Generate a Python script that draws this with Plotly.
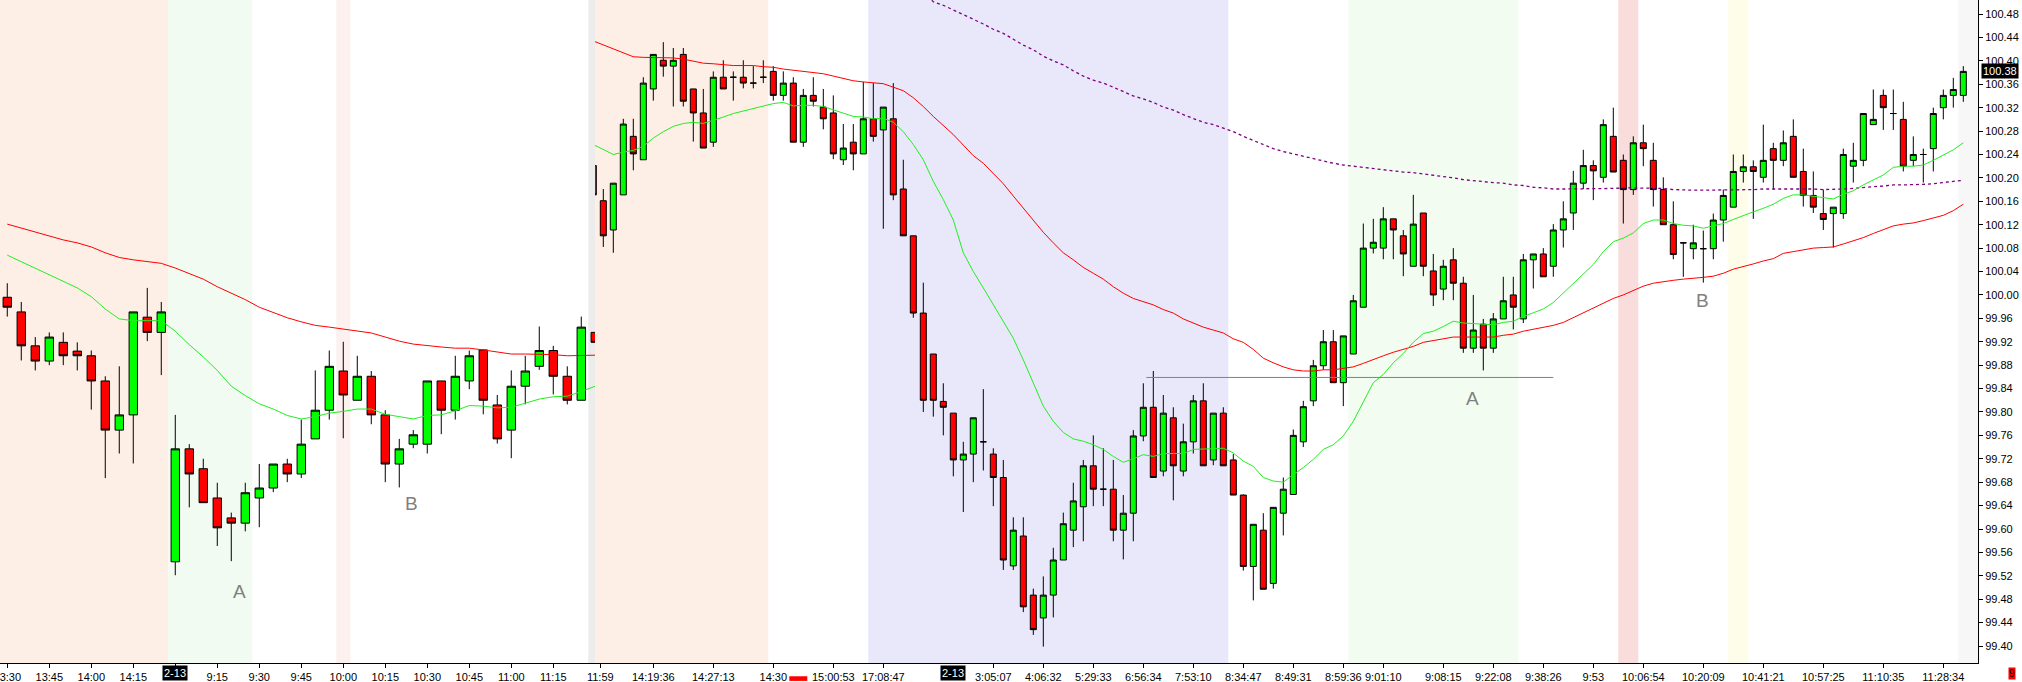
import plotly.graph_objects as go

# === Left panel (previous session), one candle per index ===
left_open = [99.996, 99.971, 99.913, 99.887, 99.919, 99.904, 99.896, 99.853, 99.769, 99.795,
             99.962, 99.936, 99.544, 99.737, 99.703, 99.653, 99.619, 99.610, 99.653, 99.670,
             99.711, 99.694, 99.754, 99.803, 99.870, 99.820, 99.861, 99.795, 99.711, 99.745,
             99.745, 99.853, 99.803, 99.853, 99.906, 99.812, 99.769, 99.844, 99.878, 99.905,
             99.861, 99.820, 99.936]
left_high = [100.020, 99.988, 99.928, 99.936, 99.936, 99.919, 99.905, 99.861, 99.878, 99.971,
             100.012, 99.988, 99.795, 99.745, 99.720, 99.679, 99.628, 99.679, 99.711, 99.711,
             99.720, 99.787, 99.871, 99.905, 99.920, 99.896, 99.870, 99.803, 99.754, 99.769,
             99.853, 99.853, 99.896, 99.905, 99.906, 99.829, 99.871, 99.896, 99.946, 99.913,
             99.878, 99.963, 99.936]
left_low = [99.963, 99.888, 99.871, 99.880, 99.880, 99.871, 99.804, 99.687, 99.729, 99.712,
            99.921, 99.863, 99.521, 99.637, 99.645, 99.571, 99.545, 99.596, 99.603, 99.663,
            99.680, 99.687, 99.754, 99.787, 99.755, 99.820, 99.779, 99.680, 99.671, 99.738,
            99.729, 99.762, 99.787, 99.839, 99.796, 99.746, 99.721, 99.813, 99.872, 99.830,
            99.813, 99.820, 99.919]
left_close = [99.979, 99.913, 99.887, 99.928, 99.896, 99.896, 99.853, 99.769, 99.795, 99.971,
              99.936, 99.971, 99.737, 99.694, 99.645, 99.602, 99.610, 99.662, 99.670, 99.711,
              99.694, 99.745, 99.803, 99.878, 99.829, 99.861, 99.795, 99.711, 99.737, 99.761,
              99.853, 99.803, 99.861, 99.896, 99.820, 99.754, 99.844, 99.870, 99.905, 99.861,
              99.820, 99.945, 99.919]
left_fast = [100.068, 100.057, 100.046, 100.034, 100.023, 100.012, 99.997, 99.976, 99.959, 99.956,
             99.956, 99.956, 99.938, 99.915, 99.894, 99.871, 99.844, 99.828, 99.814, 99.805,
             99.794, 99.788, 99.792, 99.798, 99.801, 99.805, 99.805, 99.796, 99.792, 99.788,
             99.794, 99.795, 99.802, 99.811, 99.810, 99.807, 99.808, 99.815, 99.822, 99.826,
             99.827, 99.835, 99.844]
left_slow = [100.121, 100.114, 100.108, 100.101, 100.094, 100.089, 100.082, 100.072, 100.064, 100.060,
             100.057, 100.054, 100.046, 100.036, 100.027, 100.014, 100.003, 99.992, 99.979, 99.970,
             99.961, 99.954, 99.948, 99.945, 99.942, 99.939, 99.935, 99.928, 99.921, 99.916,
             99.913, 99.911, 99.909, 99.909, 99.906, 99.903, 99.899, 99.899, 99.899, 99.898,
             99.896, 99.897, 99.897]
left_tick_idx = [0, 3, 6, 9, 12, 15, 18, 21, 24, 27, 30, 33, 36, 39]
left_tick_text = ["13:30", "13:45", "14:00", "14:15", "", "9:15", "9:30", "9:45",
                  "10:00", "10:15", "10:30", "10:45", "11:00", "11:15"]

# === Right panel, candles k = -1 .. 136 ===
right_first = -1
right_open = [100.221, 100.161, 100.111, 100.171, 100.271, 100.231, 100.352, 100.401, 100.391, 100.411,
              100.352, 100.311, 100.261, 100.372, 100.372, 100.372, 100.362, 100.372, 100.382, 100.341,
              100.362, 100.261, 100.341, 100.321, 100.311, 100.231, 100.261, 100.241, 100.301, 100.282,
              100.301, 100.181, 100.101, 99.969, 99.899, 99.818, 99.798, 99.718, 99.728, 99.749,
              99.728, 99.688, 99.537, 99.588, 99.487, 99.448, 99.487, 99.547, 99.598, 99.638,
              99.708, 99.668, 99.668, 99.598, 99.627, 99.759, 99.808, 99.699, 99.790, 99.699,
              99.749, 99.819, 99.718, 99.798, 99.718, 99.658, 99.536, 99.598, 99.507, 99.627,
              99.659, 99.749, 99.819, 99.879, 99.920, 99.850, 99.899, 99.979, 100.080, 100.080,
              100.130, 100.101, 100.049, 100.140, 100.041, 100.010, 100.060, 100.020, 99.909, 99.950,
              99.909, 99.959, 100.000, 99.959, 100.060, 100.070, 100.049, 100.111, 100.140, 100.191,
              100.221, 100.201, 100.271, 100.230, 100.180, 100.260, 100.230, 100.180, 100.120, 100.089,
              100.079, 100.079, 100.079, 100.128, 100.150, 100.211, 100.219, 100.201, 100.250, 100.230,
              100.271, 100.211, 100.170, 100.139, 100.139, 100.139, 100.220, 100.230, 100.291, 100.341,
              100.310, 100.300, 100.230, 100.240, 100.250, 100.320, 100.341, 100.341]
right_high = [100.221, 100.181, 100.191, 100.301, 100.301, 100.372, 100.411, 100.432, 100.422, 100.422,
              100.352, 100.352, 100.382, 100.401, 100.382, 100.401, 100.391, 100.401, 100.391, 100.382,
              100.372, 100.352, 100.372, 100.352, 100.341, 100.292, 100.292, 100.364, 100.362, 100.321,
              100.362, 100.231, 100.101, 100.021, 99.899, 99.849, 99.798, 99.749, 99.790, 99.839,
              99.738, 99.718, 99.620, 99.620, 99.498, 99.519, 99.568, 99.628, 99.679, 99.718,
              99.760, 99.738, 99.718, 99.658, 99.769, 99.849, 99.870, 99.829, 99.808, 99.780,
              99.829, 99.849, 99.798, 99.808, 99.728, 99.659, 99.608, 99.627, 99.637, 99.688,
              99.770, 99.819, 99.889, 99.940, 99.940, 99.930, 100.000, 100.122, 100.130, 100.150,
              100.130, 100.111, 100.171, 100.140, 100.070, 100.060, 100.080, 100.031, 100.000, 99.959,
              99.969, 100.031, 100.031, 100.070, 100.070, 100.080, 100.121, 100.160, 100.212, 100.248,
              100.230, 100.300, 100.320, 100.240, 100.271, 100.291, 100.260, 100.201, 100.160, 100.089,
              100.120, 100.110, 100.139, 100.180, 100.240, 100.240, 100.230, 100.291, 100.260, 100.281,
              100.300, 100.250, 100.211, 100.180, 100.150, 100.250, 100.260, 100.310, 100.351, 100.351,
              100.351, 100.330, 100.271, 100.250, 100.320, 100.351, 100.371, 100.391]
right_low = [100.171, 100.082, 100.072, 100.171, 100.213, 100.231, 100.332, 100.373, 100.322, 100.322,
             100.262, 100.251, 100.253, 100.352, 100.332, 100.353, 100.353, 100.362, 100.332, 100.332,
             100.261, 100.253, 100.322, 100.283, 100.232, 100.222, 100.213, 100.241, 100.262, 100.113,
             100.162, 100.101, 99.961, 99.800, 99.792, 99.760, 99.690, 99.629, 99.680, 99.700,
             99.639, 99.530, 99.530, 99.458, 99.419, 99.399, 99.449, 99.547, 99.569, 99.579,
             99.639, 99.639, 99.579, 99.548, 99.579, 99.750, 99.688, 99.690, 99.649, 99.690,
             99.729, 99.708, 99.709, 99.708, 99.658, 99.529, 99.478, 99.497, 99.498, 99.589,
             99.659, 99.740, 99.810, 99.872, 99.850, 99.810, 99.899, 99.979, 100.071, 100.061,
             100.061, 100.032, 100.049, 100.032, 99.981, 99.991, 99.991, 99.901, 99.901, 99.871,
             99.901, 99.959, 99.941, 99.952, 100.011, 100.031, 100.031, 100.081, 100.111, 100.181,
             100.162, 100.192, 100.210, 100.122, 100.171, 100.220, 100.151, 100.120, 100.061, 100.031,
             100.061, 100.021, 100.061, 100.091, 100.150, 100.192, 100.130, 100.192, 100.180, 100.220,
             100.201, 100.151, 100.140, 100.111, 100.081, 100.130, 100.192, 100.220, 100.291, 100.282,
             100.282, 100.211, 100.220, 100.192, 100.211, 100.300, 100.320, 100.330]
right_close = [100.171, 100.101, 100.191, 100.292, 100.241, 100.362, 100.411, 100.391, 100.401, 100.331,
               100.311, 100.251, 100.372, 100.352, 100.372, 100.362, 100.362, 100.372, 100.341, 100.362,
               100.261, 100.341, 100.331, 100.301, 100.241, 100.251, 100.241, 100.301, 100.271, 100.321,
               100.171, 100.101, 99.969, 99.820, 99.820, 99.808, 99.718, 99.728, 99.790, 99.749,
               99.688, 99.547, 99.598, 99.467, 99.428, 99.487, 99.547, 99.609, 99.648, 99.708,
               99.668, 99.668, 99.598, 99.627, 99.759, 99.808, 99.688, 99.798, 99.708, 99.749,
               99.819, 99.708, 99.798, 99.708, 99.658, 99.536, 99.608, 99.497, 99.637, 99.668,
               99.760, 99.809, 99.879, 99.920, 99.850, 99.930, 99.990, 100.080, 100.090, 100.130,
               100.111, 100.070, 100.121, 100.049, 100.000, 100.049, 100.020, 99.909, 99.940, 99.909,
               99.959, 99.990, 99.979, 100.060, 100.070, 100.031, 100.111, 100.130, 100.191, 100.221,
               100.212, 100.291, 100.210, 100.180, 100.260, 100.250, 100.180, 100.120, 100.069, 100.089,
               100.089, 100.079, 100.128, 100.170, 100.211, 100.219, 100.211, 100.230, 100.230, 100.260,
               100.201, 100.170, 100.150, 100.129, 100.150, 100.240, 100.230, 100.310, 100.300, 100.320,
               100.310, 100.220, 100.240, 100.240, 100.310, 100.341, 100.351, 100.382]
right_fast = [100.257, 100.248, 100.240, 100.244, 100.247, 100.254, 100.268, 100.279, 100.288, 100.293,
              100.295, 100.293, 100.298, 100.304, 100.310, 100.314, 100.318, 100.323, 100.327, 100.329,
              100.323, 100.324, 100.324, 100.322, 100.316, 100.311, 100.305, 100.304, 100.301, 100.302,
              100.295, 100.279, 100.257, 100.231, 100.194, 100.163, 100.128, 100.072, 100.040, 100.012,
              99.983, 99.955, 99.926, 99.889, 99.849, 99.810, 99.784, 99.765, 99.754, 99.750,
              99.744, 99.736, 99.724, 99.714, 99.720, 99.727, 99.724, 99.729, 99.729, 99.729,
              99.736, 99.737, 99.738, 99.738, 99.730, 99.716, 99.707, 99.688, 99.682, 99.680,
              99.693, 99.705, 99.719, 99.736, 99.744, 99.759, 99.784, 99.816, 99.850, 99.864,
              99.884, 99.900, 99.919, 99.934, 99.938, 99.946, 99.955, 99.952, 99.951, 99.949,
              99.949, 99.953, 99.955, 99.963, 99.970, 99.976, 99.987, 100.003, 100.019, 100.035,
              100.052, 100.074, 100.091, 100.097, 100.106, 100.122, 100.128, 100.128, 100.122, 100.119,
              100.118, 100.114, 100.118, 100.122, 100.129, 100.136, 100.142, 100.148, 100.155, 100.165,
              100.171, 100.171, 100.169, 100.167, 100.164, 100.172, 100.178, 100.188, 100.196, 100.205,
              100.218, 100.220, 100.220, 100.222, 100.230, 100.239, 100.248, 100.260]
right_slow = [100.434, 100.427, 100.420, 100.414, 100.407, 100.406, 100.406, 100.406, 100.405, 100.403,
              100.399, 100.396, 100.395, 100.393, 100.392, 100.392, 100.392, 100.390, 100.389, 100.386,
              100.384, 100.382, 100.380, 100.378, 100.374, 100.370, 100.366, 100.364, 100.363, 100.361,
              100.355, 100.349, 100.337, 100.322, 100.305, 100.289, 100.274, 100.256, 100.238, 100.225,
              100.208, 100.190, 100.169, 100.148, 100.128, 100.107, 100.089, 100.072, 100.060, 100.047,
              100.037, 100.027, 100.014, 100.003, 99.994, 99.989, 99.983, 99.975, 99.969, 99.959,
              99.952, 99.945, 99.940, 99.935, 99.925, 99.919, 99.907, 99.892, 99.884, 99.877,
              99.872, 99.870, 99.870, 99.872, 99.872, 99.874, 99.877, 99.883, 99.890, 99.896,
              99.902, 99.907, 99.912, 99.919, 99.922, 99.925, 99.928, 99.928, 99.928, 99.928,
              99.928, 99.931, 99.933, 99.938, 99.941, 99.944, 99.948, 99.953, 99.961, 99.969,
              99.978, 99.986, 99.994, 100.000, 100.008, 100.015, 100.020, 100.023, 100.025, 100.027,
              100.028, 100.030, 100.032, 100.037, 100.044, 100.048, 100.053, 100.058, 100.062, 100.071,
              100.074, 100.077, 100.080, 100.081, 100.082, 100.087, 100.092, 100.098, 100.105, 100.111,
              100.118, 100.121, 100.123, 100.127, 100.131, 100.136, 100.144, 100.155]
# long average (dotted purple), starts at k = 32
long_first = 32
right_long = [100.518, 100.501, 100.495, 100.487, 100.480, 100.471, 100.463, 100.454, 100.447, 100.437,
              100.427, 100.419, 100.408, 100.400, 100.393, 100.383, 100.374, 100.367, 100.362, 100.355,
              100.348, 100.340, 100.335, 100.329, 100.321, 100.316, 100.308, 100.302, 100.295, 100.291,
              100.285, 100.279, 100.271, 100.264, 100.257, 100.250, 100.245, 100.241, 100.237, 100.232,
              100.228, 100.225, 100.222, 100.220, 100.218, 100.216, 100.213, 100.212, 100.210, 100.209,
              100.207, 100.204, 100.202, 100.200, 100.197, 100.195, 100.193, 100.192, 100.191, 100.188,
              100.187, 100.184, 100.183, 100.181, 100.181, 100.181, 100.181, 100.182, 100.182, 100.182,
              100.183, 100.183, 100.183, 100.183, 100.182, 100.180, 100.179, 100.179, 100.179, 100.179,
              100.180, 100.180, 100.180, 100.180, 100.181, 100.181, 100.182, 100.182, 100.182, 100.181,
              100.180, 100.180, 100.181, 100.182, 100.184, 100.185, 100.186, 100.188, 100.188, 100.188,
              100.189, 100.190, 100.192, 100.193, 100.196]
right_tick_idx = [-0.3, 5, 11, 17, 23, 28, 39, 44, 49, 54, 59, 64, 69, 74, 78,
                  84, 89, 94, 99, 104, 110, 116, 122, 128, 134]
right_tick_text = ["11:59", "14:19:36", "14:27:13", "14:30", "15:00:53", "17:08:47", "3:05:07",
                   "4:06:32", "5:29:33", "6:56:34", "7:53:10", "8:34:47", "8:49:31", "8:59:36",
                   "9:01:10", "9:08:15", "9:22:08", "9:38:26", "9:53", "10:06:54", "10:20:09",
                   "10:41:21", "10:57:25", "11:10:35", "11:28:34"]
price_ticks = [99.40, 99.44, 99.48, 99.52, 99.56, 99.60, 99.64, 99.68, 99.72, 99.76, 99.80,
               99.84, 99.88, 99.92, 99.96, 100.00, 100.04, 100.08, 100.12, 100.16, 100.20,
               100.24, 100.28, 100.32, 100.36, 100.40, 100.44, 100.48]

# session shading: (panel, start, end, colour)
bands = [("x", -0.52, 11.5, "#fdeee6"), ("x", 11.5, 17.5, "#f1fbf1"), ("x", 23.5, 24.5, "#fdf1f0"),
         ("x", 41.5, 41.98, "#ececec"),
         ("x2", -0.83, 16.5, "#fdeee6"), ("x2", 26.5, 62.5, "#e8e8fa"), ("x2", 74.5, 91.5, "#f2fcf1"),
         ("x2", 101.5, 103.5, "#f9dcdc"), ("x2", 112.5, 114.5, "#fdfdea"), ("x2", 135.5, 137.47, "#f7f7f7")]

# letter marks: (panel, index, price, text)
marks = [("x", 16.6, 99.493, "A"), ("x", 28.9, 99.643, "B"),
         ("x2", 86.9, 99.823, "A"), ("x2", 109.9, 99.991, "B")]
level_line = (54.3, 95.0, 99.859)
last_price = 100.383

FONT = "Liberation Sans"
W, H = 2022, 682
y_range = [99.371, 100.504]

left_x = list(range(len(left_open)))
right_x = list(range(right_first, right_first + len(right_open)))
long_x = list(range(long_first, long_first + len(right_long)))

fig = go.Figure()

candle_style = dict(
    increasing=dict(line=dict(color="black", width=1), fillcolor="#00ff00"),
    decreasing=dict(line=dict(color="black", width=1), fillcolor="#ff0000"),
    whiskerwidth=0, hoverinfo="skip", showlegend=False,
)

fig.add_trace(go.Scatter(x=left_x, y=left_slow, mode="lines", line=dict(color="#ff0000", width=1),
                         xaxis="x", yaxis="y", showlegend=False, hoverinfo="skip"))
fig.add_trace(go.Scatter(x=left_x, y=left_fast, mode="lines", line=dict(color="#22ee22", width=1),
                         xaxis="x", yaxis="y", showlegend=False, hoverinfo="skip"))
fig.add_trace(go.Candlestick(x=left_x, open=left_open, high=left_high, low=left_low, close=left_close,
                             xaxis="x", yaxis="y", **candle_style))

fig.add_trace(go.Scatter(x=long_x, y=right_long, mode="lines",
                         line=dict(color="#800080", width=1.3, dash="dot"),
                         xaxis="x2", yaxis="y2", showlegend=False, hoverinfo="skip"))
fig.add_trace(go.Scatter(x=right_x, y=right_slow, mode="lines", line=dict(color="#ff0000", width=1),
                         xaxis="x2", yaxis="y2", showlegend=False, hoverinfo="skip"))
fig.add_trace(go.Scatter(x=right_x, y=right_fast, mode="lines", line=dict(color="#22ee22", width=1),
                         xaxis="x2", yaxis="y2", showlegend=False, hoverinfo="skip"))
fig.add_trace(go.Candlestick(x=right_x, open=right_open, high=right_high, low=right_low, close=right_close,
                             xaxis="x2", yaxis="y2", **candle_style))

shapes = []
for ax, x0, x1, col in bands:
    yref = "y domain" if ax == "x" else "y2 domain"
    shapes.append(dict(type="rect", xref=ax, yref=yref, x0=x0, x1=x1, y0=0, y1=1,
                       fillcolor=col, line=dict(width=0), layer="below"))
shapes.append(dict(type="line", xref="x2", yref="y2", x0=level_line[0], x1=level_line[1],
                   y0=level_line[2], y1=level_line[2], line=dict(color="#808080", width=1)))
# small red marker under the time axis
shapes.append(dict(type="rect", xref="x2", yref="paper", x0=18.6, x1=20.4, y0=-0.020, y1=-0.027,
                   fillcolor="#ff0000", line=dict(width=0)))

annotations = []
for ax, xi, yv, txt in marks:
    annotations.append(dict(x=xi, y=yv, xref=ax, yref="y" if ax == "x" else "y2", text=txt,
                            showarrow=False, font=dict(family=FONT, size=19, color="#808080")))
for ax, xi in (("x", 12), ("x2", 35)):
    annotations.append(dict(x=xi, y=-0.003, xref=ax, yref="paper", yanchor="top", text="2-13",
                            showarrow=False, bgcolor="black", borderpad=1,
                            font=dict(family=FONT, size=11, color="white")))
annotations.append(dict(x=1981 / W, y=last_price, xref="paper", yref="y2", xanchor="left",
                        text="100.38", showarrow=False, bgcolor="black", borderpad=1,
                        font=dict(family=FONT, size=11, color="white")))
annotations.append(dict(x=2008 / W, y=-0.006, xref="paper", yref="paper", xanchor="left", yanchor="top",
                        text="9", showarrow=False, bgcolor="#ff0000", borderpad=0,
                        font=dict(family=FONT, size=10, color="black")))

xaxis_common = dict(showgrid=False, zeroline=False, showline=True, linecolor="black", linewidth=1,
                    ticks="outside", ticklen=4, tickcolor="black", tickmode="array",
                    tickfont=dict(family=FONT, size=11, color="black"), automargin=False,
                    ticklabeloverflow="allow",
                    rangeslider=dict(visible=False), fixedrange=True)

fig.update_layout(
    width=W, height=H,
    margin=dict(l=0, r=0, t=0, b=19, autoexpand=False),
    paper_bgcolor="white", plot_bgcolor="white",
    boxgap=0.4, boxgroupgap=0,
    showlegend=False,
    xaxis=dict(domain=[0, 595 / W], range=[-0.52, 41.98], anchor="y",
               tickvals=left_tick_idx, ticktext=left_tick_text, **xaxis_common),
    yaxis=dict(domain=[0, 1], range=y_range, anchor="x", visible=False, fixedrange=True, automargin=False),
    xaxis2=dict(domain=[595 / W, 1978 / W], range=[-0.83, 137.47], anchor="y2",
                tickvals=right_tick_idx, ticktext=right_tick_text, **xaxis_common),
    yaxis2=dict(domain=[0, 1], range=y_range, anchor="x2", side="right", automargin=False,
                showgrid=False, zeroline=False, showline=True, linecolor="black", linewidth=1,
                ticks="outside", ticklen=4, tickcolor="black",
                tickvals=price_ticks, ticktext=[f"{v:.2f}" for v in price_ticks],
                tickfont=dict(family=FONT, size=11, color="black"), fixedrange=True),
    shapes=shapes,
    annotations=annotations,
)

# drop the browser's default page margin so the figure fills the window
fig.write_html("out.html", config={"displayModeBar": False},
               post_script="document.body.style.margin='0';document.body.style.overflow='hidden';")
